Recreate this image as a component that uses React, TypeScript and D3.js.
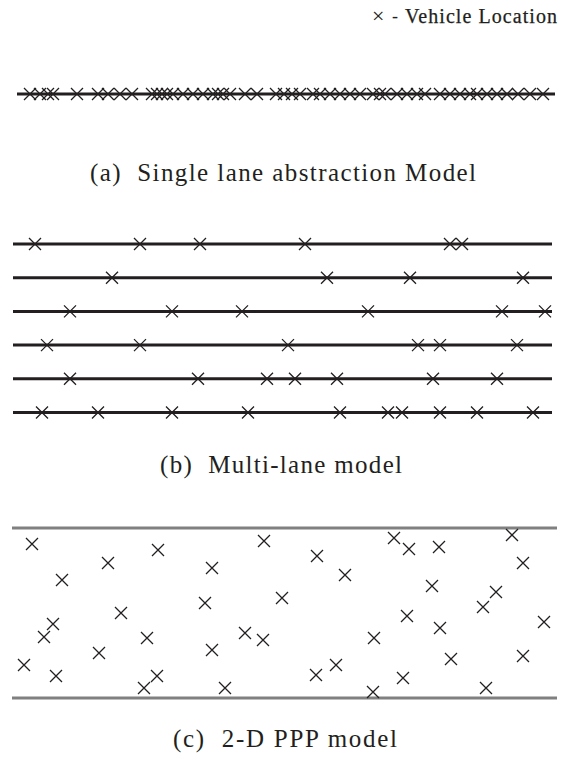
import React from "react";
import * as d3 from "d3";

// Vehicle positions along the road (metres from road start)
const singleLane: number[] = [17, 27, 35, 40, 64, 85, 95, 107, 119, 139, 144, 149, 154, 160, 170, 180, 190, 200, 205, 210, 217, 232, 244, 263, 271, 279, 287, 300, 307, 317, 327, 337, 347, 360, 367, 372, 384, 394, 404, 412, 427, 437, 447, 457, 464, 474, 484, 494, 505, 517, 530];

const lane1: number[] = [22, 127, 187, 292, 437, 449];
const lane2: number[] = [99, 314, 397, 510];
const lane3: number[] = [57, 159, 229, 355, 489, 532];
const lane4: number[] = [34, 127, 275, 405, 427, 504];
const lane5: number[] = [57, 185, 254, 282, 324, 420, 484];
const lane6: number[] = [29, 85, 159, 235, 327, 375, 389, 427, 464, 520];
const lanes: number[][] = [lane1, lane2, lane3, lane4, lane5, lane6];

// 2-D PPP: [longitudinal position, lateral position]
const pppX: number[] = [19, 145, 251, 95, 199, 49, 269, 192, 108, 40, 31, 134, 232, 250, 199, 86, 11, 43, 144, 131, 212, 381, 396, 426, 499, 304, 510, 332, 419, 483, 470, 394, 531, 427, 361, 438, 510, 323, 303, 390, 360, 473];
const pppY: number[] = [154, 148, 157, 135, 130, 118, 100, 95, 85, 74, 61, 60, 65, 58, 48, 45, 33, 22, 22, 10, 10, 160, 149, 151, 163, 142, 135, 123, 112, 106, 91, 82, 76, 70, 60, 39, 42, 33, 23, 20, 6, 10];

const captions: string[] = ["(a)  Single lane abstraction Model", "(b)  Multi-lane model", "(c)  2-D PPP model"];
const legendLabel = "Vehicle Location";

const W = 563;
const H = 761;

function Cross({ cx, cy, r = 6, sw = 1.3, color = "#231f20" }: { cx: number; cy: number; r?: number; sw?: number; color?: string }) {
  return (
    <path
      d={`M${cx - r},${cy - r}L${cx + r},${cy + r}M${cx - r},${cy + r}L${cx + r},${cy - r}`}
      stroke={color}
      strokeWidth={sw}
      fill="none"
    />
  );
}

export default function App() {
  const x = d3.scaleLinear().domain([0, 540]).range([13, 553]);
  const laneY = d3.scalePoint<number>().domain(d3.range(6)).range([244, 412.5]);
  const yPPP = d3.scaleLinear().domain([0, 170]).range([698, 528]);
  const singleY = 94;

  const captionFont = "'Liberation Serif', 'Times New Roman', serif";
  const capStyle = { whiteSpace: "pre" as const };

  return (
    <svg width={W} height={H} style={{ position: "absolute", left: 0, top: 0, background: "#fff" }}>
      {/* Legend */}
      <g>
        <text x={372} y={23} fontFamily={captionFont} fontSize={22} fill="#231f20">×</text>
        <text x={392} y={22} fontFamily={captionFont} fontSize={18} fill="#231f20">-</text>
        <text x={405} y={23} fontFamily={captionFont} fontSize={20} fill="#231f20" stroke="#231f20" strokeWidth={0.25} textLength={152} lengthAdjust="spacing">{legendLabel}</text>
      </g>

      {/* (a) Single lane */}
      <line x1={x(4)} x2={x(542)} y1={singleY} y2={singleY} stroke="#231f20" strokeWidth={3} />
      {singleLane.map((p, i) => (
        <Cross key={"s" + i} cx={x(p)} cy={singleY} />
      ))}
      <text x={90} y={181} fontFamily={captionFont} fontSize={25} fill="#231f20" style={capStyle} textLength={386} lengthAdjust="spacing">{captions[0]}</text>

      {/* (b) Multi-lane */}
      {lanes.map((lane, li) => (
        <g key={"l" + li}>
          <line x1={x(0)} x2={x(539)} y1={laneY(li)} y2={laneY(li)} stroke="#231f20" strokeWidth={3} />
          {lane.map((p, i) => (
            <Cross key={i} cx={x(p)} cy={laneY(li)!} />
          ))}
        </g>
      ))}
      <text x={160} y={473} fontFamily={captionFont} fontSize={25} fill="#231f20" style={capStyle} textLength={242} lengthAdjust="spacing">{captions[1]}</text>

      {/* (c) 2-D PPP */}
      <line x1={x(-1)} x2={x(544)} y1={yPPP(170)} y2={yPPP(170)} stroke="#808080" strokeWidth={3} />
      <line x1={x(-1)} x2={x(544)} y1={yPPP(0)} y2={yPPP(0)} stroke="#808080" strokeWidth={3} />
      {pppX.map((p, i) => (
        <Cross key={"p" + i} cx={x(p)} cy={yPPP(pppY[i])} />
      ))}
      <text x={173} y={747} fontFamily={captionFont} fontSize={25} fill="#231f20" style={capStyle} textLength={224} lengthAdjust="spacing">{captions[2]}</text>
    </svg>
  );
}
